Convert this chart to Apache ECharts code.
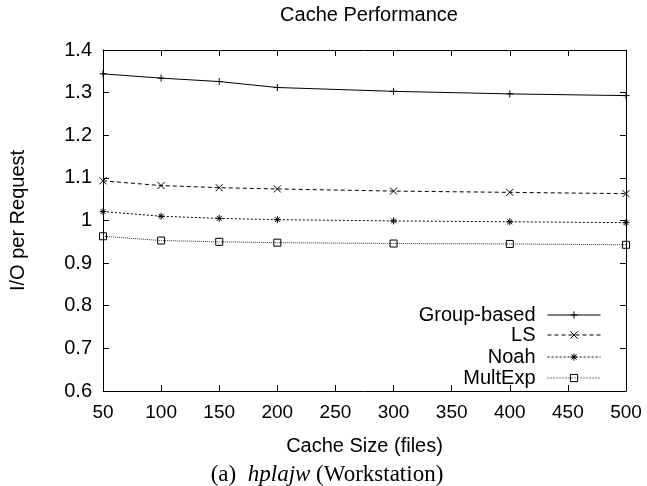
<!DOCTYPE html>
<html>
<head>
<meta charset="utf-8">
<script src="https://cdn.jsdelivr.net/npm/echarts@6/dist/echarts.min.js"></script>
<style>
html,body{margin:0;padding:0;background:#fff;}
#chart{width:647px;height:486px;}
</style>
</head>
<body>
<div id="chart"></div>
<script>
var cacheSizes = [50, 100, 150, 200, 300, 400, 500];
var groupBased = [1.344, 1.334, 1.326, 1.312, 1.303, 1.297, 1.293];
var ls = [1.093, 1.082, 1.077, 1.074, 1.069, 1.066, 1.063];
var noah = [1.021, 1.010, 1.005, 1.002, 0.999, 0.997, 0.995];
var multExp = [0.963, 0.953, 0.950, 0.948, 0.946, 0.945, 0.943];
var seriesNames = ['Group-based', 'LS', 'Noah', 'MultExp'];

function pairs(vals) { return cacheSizes.map(function (x, i) { return [x, vals[i]]; }); }

var FONT = 'Liberation Sans, Arial, sans-serif';
var SERIF = 'Liberation Serif, Times New Roman, serif';
var symPlus = 'path://M0,5L10,5M5,0L5,10';
var symX = 'path://M0,0L10,10M0,10L10,0';
var symStar = 'path://M0,5L10,5M5,0L5,10M1.5,1.5L8.5,8.5M1.5,8.5L8.5,1.5';
var symSquare = 'path://M0,0L10,0L10,10L0,10Z';

function mkSeries(name, vals, sym, dash, col) {
  return {
    name: name, type: 'line', data: pairs(vals),
    symbol: sym, symbolSize: 7, showSymbol: true,
    lineStyle: { color: col, width: 1, type: dash },
    itemStyle: { color: 'rgba(0,0,0,0)', borderColor: '#000', borderWidth: 1 },
    emphasis: { disabled: true }, animation: false
  };
}

var legendTops = [300, 320, 342, 363];
var legendDash = ['solid', [4, 3], [2, 2], [1, 2]];
var legends = seriesNames.map(function (n, i) {
  return {
    data: [n], right: 41, top: legendTops[i], align: 'right', orient: 'vertical',
    itemWidth: 53, itemHeight: 9, itemGap: 10, selectedMode: false,
    lineStyle: { width: 1, type: legendDash[i], color: '#000' },
    itemStyle: { borderWidth: 1 },
    textStyle: { fontFamily: FONT, fontSize: 20, color: '#000', padding: [0, 7, 0, 0] }
  };
});

var chart = echarts.init(document.getElementById('chart'), null, { renderer: 'canvas' });
chart.setOption({
  backgroundColor: '#fff',
  animation: false,
  title: [
    { text: 'Cache Performance', left: 364, top: 0, textAlign: 'center',
      textStyle: { fontFamily: FONT, fontSize: 20, fontWeight: 'normal', color: '#000' } },
    { text: '{n|(a)  }{i|hplajw}{n| (Workstation)}', left: 322, top: 458, textAlign: 'center',
      textStyle: { fontWeight: 'normal', rich: {
        n: { fontFamily: SERIF, fontSize: 23, fontWeight: 'normal', color: '#000' },
        i: { fontFamily: SERIF, fontSize: 23, fontStyle: 'italic', fontWeight: 'normal', color: '#000' } } } }
  ],
  legend: legends,
  grid: { left: 103, right: 21, top: 50, bottom: 95, containLabel: false },
  xAxis: [
    { type: 'value', min: 50, max: 500, interval: 50, position: 'bottom',
      name: 'Cache Size (files)', nameLocation: 'middle', nameGap: 45,
      nameTextStyle: { fontFamily: FONT, fontSize: 20, color: '#000' },
      axisLine: { show: true, lineStyle: { color: '#000', width: 1 } },
      axisTick: { show: true, inside: true, length: 6, lineStyle: { color: '#000' } },
      axisLabel: { fontFamily: FONT, fontSize: 19, color: '#000', margin: 12 },
      splitLine: { show: false } },
    { type: 'value', min: 50, max: 500, interval: 50, position: 'top',
      axisLine: { show: true, lineStyle: { color: '#000', width: 1 } },
      axisTick: { show: true, inside: true, length: 6, lineStyle: { color: '#000' } },
      axisLabel: { show: false }, splitLine: { show: false } }
  ],
  yAxis: [
    { type: 'value', min: 0.6, max: 1.4, interval: 0.1, position: 'left',
      name: 'I/O per Request', nameLocation: 'middle', nameGap: 75,
      nameTextStyle: { fontFamily: FONT, fontSize: 20, color: '#000' },
      axisLine: { show: true, lineStyle: { color: '#000', width: 1 } },
      axisTick: { show: true, inside: true, length: 6, lineStyle: { color: '#000' } },
      axisLabel: { fontFamily: FONT, fontSize: 20, color: '#000', margin: 11,
        formatter: function (v) { return String(Math.round(v * 10) / 10); } },
      splitLine: { show: false } },
    { type: 'value', min: 0.6, max: 1.4, interval: 0.1, position: 'right',
      axisLine: { show: true, lineStyle: { color: '#000', width: 1 } },
      axisTick: { show: true, inside: true, length: 6, lineStyle: { color: '#000' } },
      axisLabel: { show: false }, splitLine: { show: false } }
  ],
  series: [
    mkSeries('Group-based', groupBased, symPlus, 'solid', '#000'),
    mkSeries('LS', ls, symX, [4, 3], '#000'),
    mkSeries('Noah', noah, symStar, [2, 2], '#000'),
    mkSeries('MultExp', multExp, symSquare, [1, 1], '#333')
  ]
});
</script>
</body>
</html>
